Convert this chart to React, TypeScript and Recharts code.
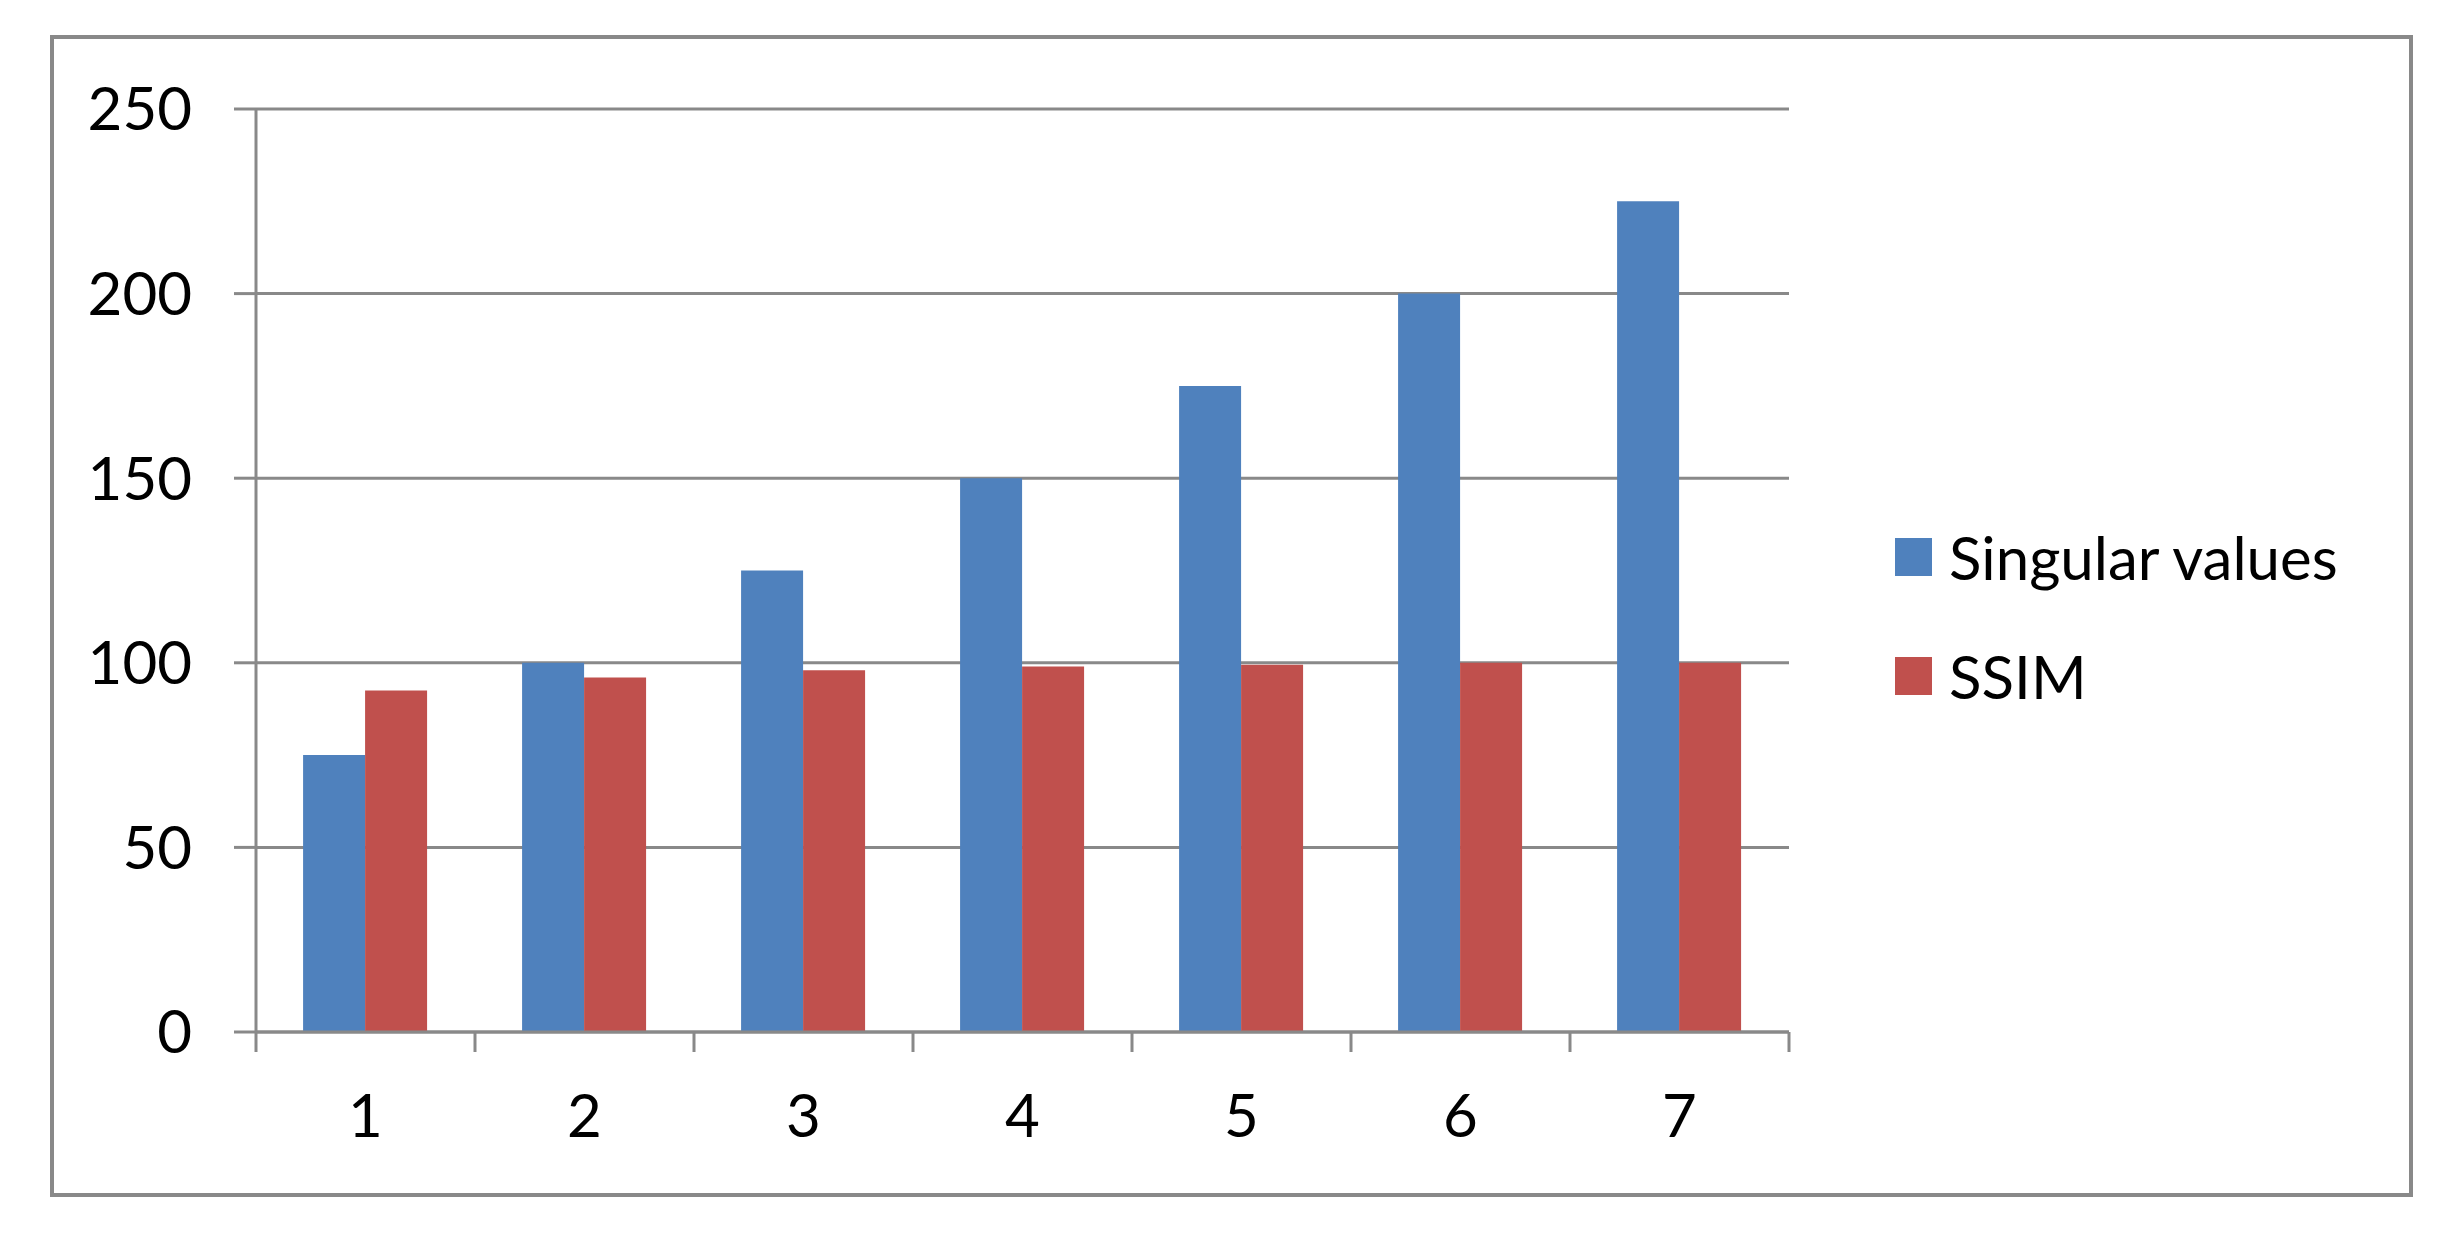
import React from 'react';
import { BarChart, Bar, XAxis, YAxis, CartesianGrid, Legend } from 'recharts';

const categories = ['1', '2', '3', '4', '5', '6', '7'];
const singularValues = [75, 100, 125, 150, 175, 200, 225];
const ssimValues = [92.5, 96, 98, 99, 99.5, 100, 100];
const yTicks = [0, 50, 100, 150, 200, 250];
const edgeTicks = [0, 1, 2, 3, 4, 5, 6, 7];
const seriesNames = ['Singular values', 'SSIM'];
const seriesColors = ['#4F81BD', '#C0504D'];

const data = categories.map((c, i) => ({ cat: c, singular: singularValues[i], ssim: ssimValues[i] }));

const GRAY = '#898989';
const FONT = 'Lato, "Open Sans", sans-serif';
const EDGE_AXIS = 0;
const CAT_AXIS = 1;

// position of each category's centre on a continuous 0..N band scale
const bandCentre = (d: any) => categories.indexOf(d.cat) + 0.5;

function LegendContent(props: any) {
  const payload = [...(props.payload || [])].sort(
    (a: any, b: any) => seriesNames.indexOf(a.value) - seriesNames.indexOf(b.value)
  );
  return (
    <div style={{ display: 'flex', flexDirection: 'column', gap: 58.5 }}>
      {payload.map((p: any) => (
        <div key={p.value} style={{ display: 'flex', alignItems: 'center', height: 60 }}>
          <div style={{ width: 37, height: 38, background: p.color, marginRight: 17, flex: 'none' }} />
          <span style={{ fontFamily: FONT, fontSize: 60, lineHeight: 1, color: '#000', whiteSpace: 'nowrap' }}>
            {p.value}
          </span>
        </div>
      ))}
    </div>
  );
}

const EmptyTick = () => <g />;

export default function App() {
  return (
    <div style={{ position: 'absolute', left: 0, top: 0, width: 2461, height: 1239, background: '#fff' }}>
      <div
        style={{
          position: 'absolute',
          left: 50,
          top: 35,
          width: 2363,
          height: 1162,
          border: `4px solid ${GRAY}`,
          boxSizing: 'border-box',
        }}
      />
      <div style={{ position: 'absolute', left: 0, top: 0 }}>
        <BarChart
          width={2461}
          height={1239}
          data={data}
          margin={{ top: 109, right: 672, bottom: 0, left: 0 }}
          barCategoryGap="21.5%"
          barGap={0}
          style={{ fontFamily: FONT }}
        >
          <CartesianGrid xAxisId={CAT_AXIS} vertical={false} stroke={GRAY} strokeWidth={3} />
          <XAxis
            xAxisId={EDGE_AXIS}
            type="number"
            dataKey={bandCentre}
            domain={[0, categories.length]}
            ticks={edgeTicks}
            interval={0}
            allowDataOverflow
            tick={EmptyTick}
            tickLine={{ stroke: GRAY, strokeWidth: 3 }}
            tickSize={20}
            axisLine={{ stroke: GRAY, strokeWidth: 3 }}
            height={1}
          />
          <XAxis
            xAxisId={CAT_AXIS}
            dataKey="cat"
            interval={0}
            tickLine={false}
            tickSize={0}
            tickMargin={61}
            axisLine={false}
            tick={{ fill: '#000', fontSize: 60, fontFamily: FONT }}
            height={206}
          />
          <YAxis
            domain={[0, 250]}
            ticks={yTicks}
            interval={0}
            width={256}
            tickSize={22}
            tickMargin={42}
            axisLine={{ stroke: GRAY, strokeWidth: 3 }}
            tickLine={{ stroke: GRAY, strokeWidth: 3 }}
            tick={{ fill: '#000', fontSize: 60, fontFamily: FONT }}
          />
          <Bar xAxisId={CAT_AXIS} dataKey="singular" name={seriesNames[0]} fill={seriesColors[0]} isAnimationActive={false} />
          <Bar xAxisId={CAT_AXIS} dataKey="ssim" name={seriesNames[1]} fill={seriesColors[1]} isAnimationActive={false} />
          <Legend
            layout="vertical"
            align="center"
            verticalAlign="middle"
            content={LegendContent}
            wrapperStyle={{ left: 1895, top: 527, width: 560 }}
          />
        </BarChart>
      </div>
    </div>
  );
}
